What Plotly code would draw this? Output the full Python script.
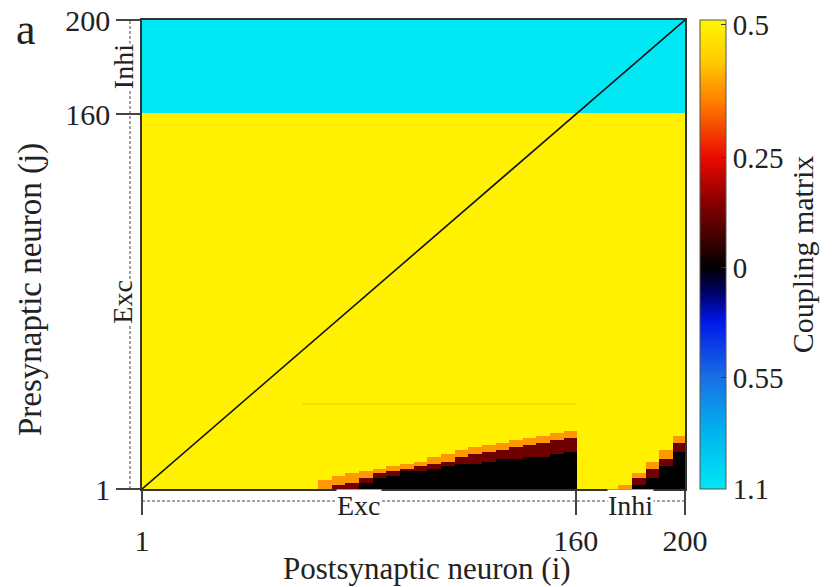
import numpy as np
import plotly.graph_objects as go

# ---------------- data ----------------
n_neurons = 200          # total neurons
n_exc = 160              # excitatory neurons (1..160), inhibitory 161..200
block_size = 5           # postsynaptic neurons per profile block

# rows (presynaptic j) covered by each colour band, per block of 5 postsynaptic neurons
black_top = [0, 0, 0, 0, 0, 0, 0, 0, 0, 0,
             0, 0, 0, 0, 0, 0, 3, 5, 6, 8,
             8, 9, 10, 11, 11, 12, 13, 13, 14, 14,
             15, 16, 0, 0, 0, 0, 2, 5, 10, 16]
dark_top = [0, 0, 0, 0, 0, 0, 0, 0, 0, 0,
            0, 0, 0, 0, 2, 3, 5, 7, 8, 9,
            10, 11, 12, 14, 15, 16, 17, 18, 19, 20,
            21, 22, 0, 0, 0, 0, 5, 9, 13, 20]
orange_top = [0, 0, 0, 0, 0, 0, 0, 0, 0, 0,
              0, 0, 0, 4, 6, 7, 8, 9, 10, 11,
              12, 14, 15, 17, 18, 19, 20, 21, 22, 23,
              24, 25, 0, 0, 0, 2, 7, 12, 17, 23]

w_exc = 0.5        # typical excitatory coupling
w_inh = -1.1       # inhibitory coupling
w_black = 0.0
w_dark = 0.12
w_orange = 0.38
faint_rows = [37]
faint_cols = [60, 160]
w_faint = 0.46

x_ticks = [1, 160, 200]
y_ticks = [1, 160, 200]
cbar_values = [-1.1, -0.55, 0.0, 0.25, 0.5]
cbar_labels = ["1.1", "0.55", "0", "0.25", "0.5"]
cbar_pos = [0.0, 0.237, 0.472, 0.707, 0.99]   # where each label sits on the bar

# ---------------- build matrix ----------------
idx = np.arange(1, n_neurons + 1)
W = np.full((n_neurons, n_neurons), w_exc)          # rows = j (presyn), cols = i (postsyn)
for c in range(n_neurons):
    b = c // block_size
    for r in range(n_exc):
        j = r + 1
        if j <= black_top[b]:
            W[r, c] = w_black
        elif j <= dark_top[b]:
            W[r, c] = w_dark
        elif j <= orange_top[b]:
            W[r, c] = w_orange
for fr in faint_rows:
    for c in range(faint_cols[0] - 1, faint_cols[1]):
        if W[fr - 1, c] == w_exc:
            W[fr - 1, c] = w_faint
W[n_exc:, :] = w_inh

U = np.interp(W, cbar_values, cbar_pos)

colorscale = [
    [0.0, "rgb(0,232,244)"],
    [0.124, "rgb(0,178,238)"],
    [0.237, "rgb(25,112,228)"],
    [0.359, "rgb(0,22,232)"],
    [0.423, "rgb(0,0,95)"],
    [0.472, "rgb(0,0,0)"],
    [0.52, "rgb(50,0,0)"],
    [0.615, "rgb(140,0,0)"],
    [0.707, "rgb(235,10,0)"],
    [0.83, "rgb(255,130,0)"],
    [0.915, "rgb(255,205,0)"],
    [1.0, "rgb(255,246,0)"],
]

SERIF = "Liberation Serif, Times New Roman, serif"
TXT = "#222222"

W_PX, H_PX = 838, 587
L, R, T, B = 142, 153, 20, 98
pw, ph = W_PX - L - R, H_PX - T - B

def px_x(p):
    return (p - L) / pw

def px_y(p):
    return (H_PX - B - p) / ph

fig = go.Figure()
fig.add_trace(go.Heatmap(
    x=idx, y=idx, z=U, zmin=0, zmax=1, colorscale=colorscale, zsmooth=False,
    colorbar=dict(
        x=px_x(700), xanchor="left", xref="paper", xpad=0, ypad=0,
        thickness=26, len=1.0, y=0.5, yanchor="middle",
        outlinewidth=1, outlinecolor="#555555",
        tickvals=cbar_pos, ticktext=cbar_labels, ticks="inside", ticklen=5, tickcolor="#333333",
        tickfont=dict(family=SERIF, size=29, color=TXT),
        title=dict(text="Coupling matrix", side="right", font=dict(family=SERIF, size=30, color=TXT)),
    ),
    hoverinfo="skip",
))
fig.add_trace(go.Scatter(
    x=[idx[0], idx[-1]], y=[idx[0], idx[-1]], mode="lines",
    line=dict(color="#111111", width=1.6), showlegend=False, hoverinfo="skip",
))

axis_common = dict(
    showgrid=False, zeroline=False, showline=True, mirror=True,
    linecolor="#333333", linewidth=1.5, ticks="outside", ticklen=24, tickwidth=1.5,
    tickcolor="#444444", tickfont=dict(family=SERIF, size=30, color=TXT),
)
fig.update_xaxes(range=[1, n_neurons], tickvals=x_ticks, ticktext=[str(t) for t in x_ticks], **axis_common)
fig.update_yaxes(range=[1, n_neurons], tickvals=y_ticks, ticktext=[str(t) for t in y_ticks], **axis_common)

vx = px_x(130)
hy = px_y(501)
fig.add_shape(type="line", xref="paper", yref="paper", x0=vx, x1=vx, y0=0, y1=1,
              line=dict(color="#444444", width=1, dash="3px,2px"))
fig.add_shape(type="line", xref="paper", yref="paper", x0=0, x1=1, y0=hy, y1=hy,
              line=dict(color="#444444", width=1, dash="3px,2px"))

lab_font = dict(family=SERIF, size=28, color=TXT)
exc_mid = (1 + n_exc) / 2
inh_mid = (n_exc + n_neurons) / 2
annos = [
    dict(x=px_x(123), xref="paper", y=exc_mid, yref="y", text="Exc", textangle=-90),
    dict(x=px_x(123), xref="paper", y=inh_mid, yref="y", text="Inhi", textangle=-90),
    dict(x=exc_mid, xref="x", y=px_y(506), yref="paper", text="Exc"),
    dict(x=inh_mid, xref="x", y=px_y(506), yref="paper", text="Inhi"),
]
for a in annos:
    fig.add_annotation(showarrow=False, bgcolor="white", borderpad=0, font=lab_font,
                       xanchor="center", yanchor="middle", **a)

fig.add_annotation(x=px_x(30), y=px_y(290), xref="paper", yref="paper", showarrow=False,
                   text="Presynaptic neuron (j)", textangle=-90,
                   font=dict(family=SERIF, size=33, color=TXT), xanchor="center", yanchor="middle")
fig.add_annotation(x=px_x(427), y=px_y(568), xref="paper", yref="paper", showarrow=False,
                   text="Postsynaptic neuron (i)",
                   font=dict(family=SERIF, size=31, color=TXT), xanchor="center", yanchor="middle")
fig.add_annotation(x=px_x(26), y=px_y(30), xref="paper", yref="paper", showarrow=False,
                   text="a", font=dict(family=SERIF, size=44, color=TXT),
                   xanchor="center", yanchor="middle")

fig.update_layout(
    width=W_PX, height=H_PX, margin=dict(l=L, r=R, t=T, b=B, autoexpand=False),
    paper_bgcolor="white", plot_bgcolor="white", showlegend=False,
)
fig.write_html("out.html", config={"displayModeBar": False},
               post_script="document.body.style.margin='0px';document.body.style.overflow='hidden';")
